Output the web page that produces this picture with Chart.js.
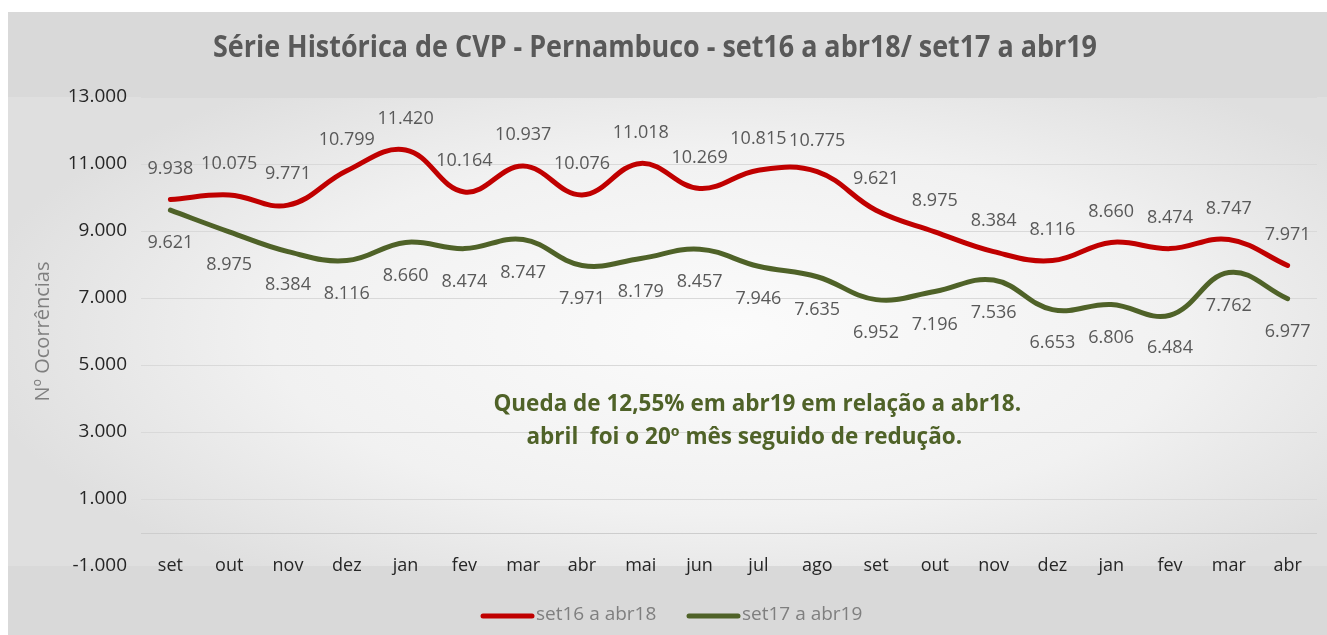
<!DOCTYPE html>
<html>
<head>
<meta charset="utf-8">
<script src="https://cdn.jsdelivr.net/npm/chart.js@4/dist/chart.umd.min.js"></script>
<style>
  html, body { margin: 0; padding: 0; background: #ffffff; }
  #moldura { position: absolute; left: 8px; top: 12px; width: 1319px; height: 623px; background: #d9d9d9; }
</style>
</head>
<body>
<div id="moldura"><canvas id="grafico" width="1319" height="623"></canvas></div>
<script>
// dados
var meses = ["set", "out", "nov", "dez", "jan", "fev", "mar", "abr", "mai", "jun",
             "jul", "ago", "set", "out", "nov", "dez", "jan", "fev", "mar", "abr"];
var serie1Nome = "set16 a abr18";
var serie1 = [9938, 10075, 9771, 10799, 11420, 10164, 10937, 10076, 11018, 10269,
              10815, 10775, 9621, 8975, 8384, 8116, 8660, 8474, 8747, 7971];
var serie2Nome = "set17 a abr19";
var serie2 = [9621, 8975, 8384, 8116, 8660, 8474, 8747, 7971, 8179, 8457,
              7946, 7635, 6952, 7196, 7536, 6653, 6806, 6484, 7762, 6977];
var eixoYMin = -1000;
var eixoYMax = 13000;
var eixoYPasso = 2000;
var titulo = "Série Histórica de CVP - Pernambuco - set16 a abr18/ set17 a abr19";
var tituloEixoY = "Nº Ocorrências";
var textoDestaque = ["Queda de 12,55% em abr19 em relação a abr18.",
                     "abril  foi o 20º mês seguido de redução."];

var fonte = "'Open Sans', Lato, sans-serif";

function formatarMilhar(v) {
  var s = Math.abs(v).toString().replace(/\B(?=(\d{3})+(?!\d))/g, ".");
  return (v < 0 ? "-" : "") + s;
}

// texto comprimido na horizontal para caber numa largura
function textoAjustado(ctx, txt, x, y, largura) {
  var w = ctx.measureText(txt).width;
  var k = Math.min(1, largura / w);
  ctx.save();
  ctx.translate(x, y);
  ctx.scale(k, 1);
  ctx.fillText(txt, 0, 0);
  ctx.restore();
}

/* fundo da area de plotagem */
var pluginFundo = {
  id: "fundo",
  beforeDraw: function (chart) {
    var ctx = chart.ctx;
    var a = chart.chartArea;
    ctx.save();
    var cx = (a.left + a.right) / 2, cy = (a.top + a.bottom) / 2;
    var rx = (a.right - a.left) / 2, ry = (a.bottom - a.top) / 2;
    ctx.translate(cx, cy);
    ctx.scale(rx / ry, 1);
    var g = ctx.createRadialGradient(0, 0, 0, 0, 0, ry * 1.3);
    g.addColorStop(0, "#fbfbfb");
    g.addColorStop(0.6, "#f1f1f1");
    g.addColorStop(1, "#dfdfdf");
    ctx.fillStyle = g;
    ctx.fillRect(-ry * 1.3, -ry, ry * 2.6, ry * 2);
    ctx.restore();

    // linha do eixo em zero
    var y0 = chart.scales.y.getPixelForValue(0);
    ctx.save();
    ctx.strokeStyle = "#cdcdcd";
    ctx.lineWidth = 1;
    ctx.beginPath();
    ctx.moveTo(a.left, Math.round(y0) + 0.5);
    ctx.lineTo(a.right, Math.round(y0) + 0.5);
    ctx.stroke();
    ctx.restore();
  }
};

/* titulo, meses, rotulos de dados, destaque e legenda */
var pluginTextos = {
  id: "textos",
  afterDatasetsDraw: function (chart) {
    var ctx = chart.ctx;
    var a = chart.chartArea;
    var sx = chart.scales.x, sy = chart.scales.y;
    ctx.save();

    // titulo
    ctx.fillStyle = "#595959";
    ctx.font = "bold 30px " + fonte;
    ctx.textAlign = "left";
    ctx.textBaseline = "alphabetic";
    textoAjustado(ctx, titulo, 205, 45, 884);

    // meses
    ctx.textAlign = "center";
    ctx.textBaseline = "middle";
    ctx.font = "18px " + fonte;
    ctx.fillStyle = "#262626";
    meses.forEach(function (m, i) {
      ctx.fillText(m, sx.getPixelForValue(i), a.bottom);
    });

    // rotulos de dados
    ctx.font = "18px " + fonte;
    ctx.fillStyle = "#595959";
    chart.data.datasets.forEach(function (ds, i) {
      var meta = chart.getDatasetMeta(i);
      meta.data.forEach(function (pt, j) {
        var dy = i === 0 ? -31 : 33;
        ctx.fillText(formatarMilhar(ds.data[j]), pt.x, pt.y + dy);
      });
    });

    // destaque
    ctx.font = "bold 22.5px " + fonte;
    ctx.fillStyle = "#4f6228";
    var largura = a.right - a.left;
    ctx.fillText(textoDestaque[0], a.left + largura * 0.524, sy.getPixelForValue(3806));
    ctx.fillText(textoDestaque[1], a.left + largura * 0.513, sy.getPixelForValue(2821));

    // legenda
    var itens = [[serie1Nome, "#c00000", 475], [serie2Nome, "#4f6228", 681]];
    ctx.font = "19px " + fonte;
    ctx.textAlign = "left";
    itens.forEach(function (it) {
      ctx.strokeStyle = it[1];
      ctx.lineWidth = 5;
      ctx.lineCap = "round";
      ctx.beginPath();
      ctx.moveTo(it[2], 604);
      ctx.lineTo(it[2] + 49, 604);
      ctx.stroke();
      ctx.fillStyle = "#7f7f7f";
      ctx.fillText(it[0], it[2] + 53, 603);
    });
    ctx.restore();
  }
};

var ctx = document.getElementById("grafico");
var myChart = new Chart(ctx, {
  type: "line",
  data: {
    labels: meses,
    datasets: [{
      label: serie1Nome,
      data: serie1,
      borderColor: "#c00000",
      backgroundColor: "#c00000",
      borderWidth: 5,
      pointRadius: 0,
      tension: 0.4,
      borderCapStyle: "round"
    }, {
      label: serie2Nome,
      data: serie2,
      borderColor: "#4f6228",
      backgroundColor: "#4f6228",
      borderWidth: 5,
      pointRadius: 0,
      tension: 0.4,
      borderCapStyle: "round"
    }]
  },
  options: {
    responsive: false,
    animation: false,
    layout: { padding: { top: 85, right: 10, left: 0, bottom: 39 } },
    plugins: {
      title: { display: false },
      tooltip: { enabled: false },
      legend: { display: false }
    },
    scales: {
      x: {
        offset: true,
        afterFit: function (s) { s.height = 30; },
        grid: { display: false, drawTicks: false },
        border: { display: false },
        ticks: { display: false }
      },
      y: {
        min: eixoYMin,
        max: eixoYMax,
        afterFit: function (s) { s.width = 133; },
        grid: {
          drawTicks: false,
          color: function (c) { return c.tick && c.tick.value === eixoYMin ? "rgba(0,0,0,0)" : "#d9d9d9"; }
        },
        border: { display: false },
        ticks: {
          stepSize: eixoYPasso,
          color: "#262626",
          font: { family: fonte, size: 19 },
          padding: 14,
          callback: function (v) { return formatarMilhar(v); }
        },
        title: {
          display: true,
          text: tituloEixoY,
          color: "#7f7f7f",
          font: { family: fonte, size: 20 },
          padding: { top: 23, bottom: 0 }
        }
      }
    }
  },
  plugins: [pluginFundo, pluginTextos]
});
</script>
</body>
</html>
